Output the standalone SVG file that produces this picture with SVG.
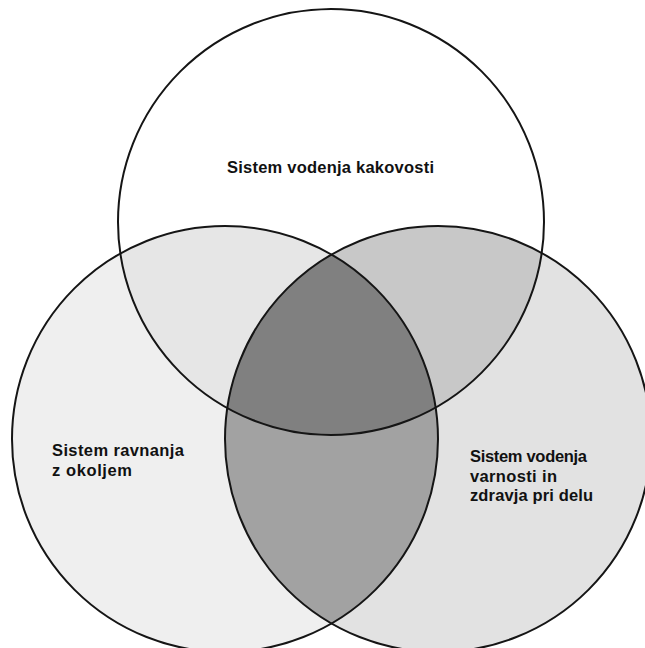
<svg xmlns="http://www.w3.org/2000/svg" width="645" height="648" viewBox="0 0 645 648">
  <style>
    .ring { fill: none; stroke: #151515; stroke-width: 2; }
    .lbl { font-family: "Liberation Sans", Arial, sans-serif; font-weight: bold; font-size: 16.5px; fill: #111; }
  </style>
  <defs>
    <clipPath id="cT"><circle cx="331" cy="222" r="213"/></clipPath>
    <clipPath id="cL"><circle cx="225" cy="439" r="213"/></clipPath>
    <clipPath id="cR"><circle cx="438" cy="439" r="213"/></clipPath>
  </defs>
  <rect width="645" height="648" fill="#ffffff"/>
  <g id="fills">
    <circle cx="225" cy="439" r="213" fill="#efefef"/>
    <circle cx="438" cy="439" r="213" fill="#e2e2e2"/>
    <circle cx="225" cy="439" r="213" fill="#a2a2a2" clip-path="url(#cR)"/>
    <circle cx="331" cy="222" r="213" fill="#e6e6e6" clip-path="url(#cL)"/>
    <circle cx="331" cy="222" r="213" fill="#c8c8c8" clip-path="url(#cR)"/>
    <g clip-path="url(#cR)">
      <circle cx="331" cy="222" r="213" fill="#808080" clip-path="url(#cL)"/>
    </g>
  </g>
  <g id="node-kakovost">
    <circle class="ring" cx="331" cy="222" r="213"/>
    <text class="lbl" x="227" y="173" textLength="207">Sistem vodenja kakovosti</text>
  </g>
  <g id="node-okolje">
    <circle class="ring" cx="225" cy="439" r="213"/>
    <text class="lbl" x="52" y="456" textLength="132">Sistem ravnanja</text>
    <text class="lbl" x="52" y="476" textLength="80">z okoljem</text>
  </g>
  <g id="node-varnost">
    <circle class="ring" cx="438" cy="439" r="213"/>
    <text class="lbl" x="470" y="462" textLength="117">Sistem vodenja</text>
    <text class="lbl" x="470" y="482" textLength="87">varnosti in</text>
    <text class="lbl" x="470" y="501" textLength="123">zdravja pri delu</text>
  </g>
  <g id="connectors"></g>
</svg>
